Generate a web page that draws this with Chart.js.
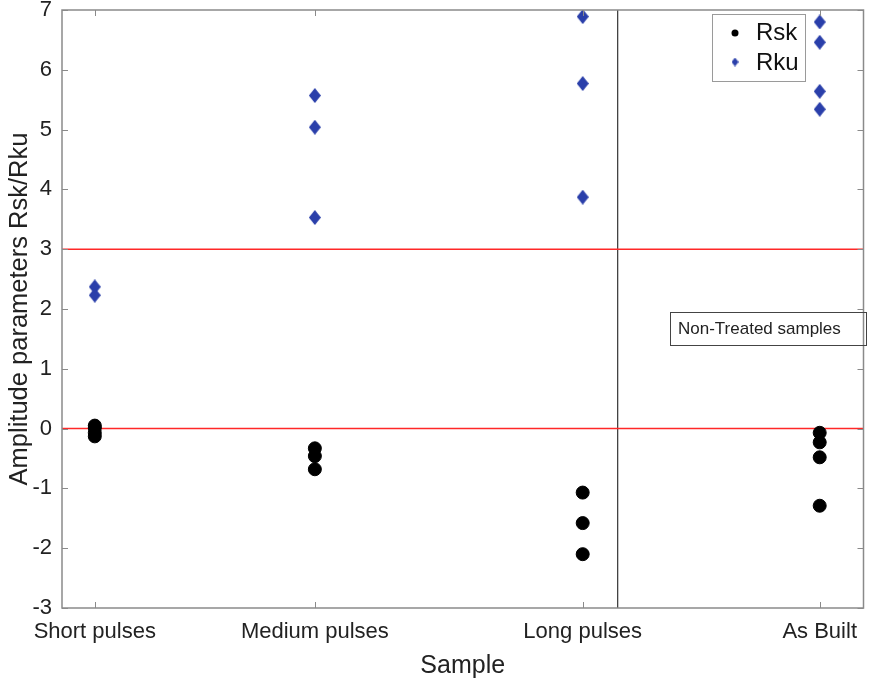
<!DOCTYPE html>
<html>
<head>
<meta charset="utf-8">
<script src="https://cdn.jsdelivr.net/npm/chart.js@4.4.1/dist/chart.umd.min.js"></script>
<style>
  html, body { margin: 0; padding: 0; background: #fff; }
  #wrap { width: 871px; height: 681px; }
</style>
</head>
<body>
<div id="wrap"><canvas id="chart"></canvas></div>
<script>
// Sample groups and where they sit on the x axis
const categories = ["Short pulses", "Medium pulses", "Long pulses", "As Built"];
const categoryX = [1, 2, 3.217, 4.294];
const xRange = [0.851, 4.493];
const separatorX = 3.376;

// Rsk values per sample group
const rskShort = [0.05, 0.01, -0.07, -0.13];
const rskMedium = [-0.33, -0.46, -0.68];
const rskLong = [-1.07, -1.58, -2.10];
const rskAsBuilt = [-0.07, -0.23, -0.48, -1.29];

// Rku values per sample group
const rkuShort = [2.37, 2.23];
const rkuMedium = [5.57, 5.04, 3.53];
const rkuLong = [6.89, 5.77, 3.87];
const rkuAsBuilt = [6.80, 6.46, 5.64, 5.34];

// y axis ticks and reference lines
const yTicks = [-3, -2, -1, 0, 1, 2, 3, 4, 5, 6, 7];
const refLines = [0, 3];

const FONT = "'Liberation Sans', Arial, Helvetica, sans-serif";
const BLUE = "rgb(42, 63, 170)";

function toPoints(groups) {
  const pts = [];
  groups.forEach((vals, i) => {
    vals.forEach((v) => pts.push({ x: categoryX[i], y: v }));
  });
  return pts;
}

// MATLAB-like diamond marker (a bit taller than wide)
function makeDiamond(w, h, color) {
  const c = document.createElement("canvas");
  c.width = w;
  c.height = h;
  const g = c.getContext("2d");
  g.fillStyle = color;
  g.beginPath();
  g.moveTo(w / 2, 0);
  g.lineTo(w, h / 2);
  g.lineTo(w / 2, h);
  g.lineTo(0, h / 2);
  g.closePath();
  g.fill();
  return c;
}

const diamond = makeDiamond(12, 15, BLUE);

const refDatasets = refLines.map((v) => ({
  type: "line",
  data: [{ x: xRange[0], y: v }, { x: xRange[1], y: v }],
  borderColor: "rgb(255, 40, 40)",
  borderWidth: 1.5,
  pointRadius: 0,
  order: 3,
}));

// box, inward ticks, legend and text note
const decorations = {
  id: "decorations",
  afterDraw(chart) {
    const { ctx, chartArea: a, scales } = chart;
    ctx.save();

    ctx.strokeStyle = "#8a8a8a";
    ctx.lineWidth = 1;
    ctx.beginPath();
    categoryX.forEach((v) => {
      const px = Math.round(scales.x.getPixelForValue(v)) + 0.5;
      ctx.moveTo(px, a.bottom);
      ctx.lineTo(px, a.bottom - 6);
      ctx.moveTo(px, a.top);
      ctx.lineTo(px, a.top + 6);
    });
    yTicks.forEach((v) => {
      const py = Math.round(scales.y.getPixelForValue(v)) + 0.5;
      ctx.moveTo(a.left, py);
      ctx.lineTo(a.left + 6, py);
      ctx.moveTo(a.right, py);
      ctx.lineTo(a.right - 6, py);
    });
    ctx.stroke();

    ctx.lineWidth = 1.5;
    ctx.strokeStyle = "#8a8a8a";
    ctx.strokeRect(a.left, a.top, a.right - a.left, a.bottom - a.top);

    // legend
    const lx = 712.5, ly = 14.5, lw = 93, lh = 67;
    ctx.fillStyle = "#fff";
    ctx.fillRect(lx, ly, lw, lh);
    ctx.strokeStyle = "#9a9a9a";
    ctx.lineWidth = 1;
    ctx.strokeRect(lx, ly, lw, lh);
    ctx.fillStyle = "#000";
    ctx.beginPath();
    ctx.arc(735, 33, 3.5, 0, Math.PI * 2);
    ctx.fill();
    ctx.drawImage(makeDiamond(7, 9, BLUE), 731.5, 57.5);
    ctx.fillStyle = "#111";
    ctx.font = "24px " + FONT;
    ctx.textBaseline = "middle";
    ctx.textAlign = "left";
    ctx.fillText("Rsk", 756, 33);
    ctx.fillText("Rku", 756, 63);

    // note box
    ctx.strokeStyle = "#444";
    ctx.strokeRect(670.5, 312.5, 196, 33);
    ctx.font = "17px " + FONT;
    ctx.fillStyle = "#222";
    ctx.fillText("Non-Treated samples", 678, 329.5);

    ctx.restore();
  },
};

new Chart(document.getElementById("chart"), {
  type: "scatter",
  data: {
    datasets: [
      {
        label: "Rsk",
        data: toPoints([rskShort, rskMedium, rskLong, rskAsBuilt]),
        backgroundColor: "#000",
        borderColor: "#000",
        pointRadius: 6.5,
        order: 1,
      },
      {
        label: "Rku",
        data: toPoints([rkuShort, rkuMedium, rkuLong, rkuAsBuilt]),
        pointStyle: diamond,
        order: 1,
      },
      ...refDatasets,
      {
        type: "line",
        data: [{ x: separatorX, y: yTicks[0] }, { x: separatorX, y: yTicks[yTicks.length - 1] }],
        borderColor: "#333",
        borderWidth: 1.2,
        pointRadius: 0,
        order: 3,
      },
    ],
  },
  options: {
    responsive: true,
    maintainAspectRatio: false,
    animation: false,
    events: [],
    layout: { padding: { top: 10, right: 3, left: 0, bottom: 0 } },
    plugins: { legend: { display: false }, tooltip: { enabled: false } },
    scales: {
      x: {
        type: "linear",
        min: xRange[0],
        max: xRange[1],
        afterBuildTicks: (s) => {
          s.ticks = categoryX.map((v) => ({ value: v }));
        },
        afterFit: (s) => {
          s.height = 73;
          s.paddingLeft = 0;
          s.paddingRight = 0;
        },
        ticks: {
          autoSkip: false,
          maxRotation: 0,
          padding: 11,
          color: "#222",
          font: { family: FONT, size: 22 },
          callback: (v) => categories[categoryX.indexOf(v)],
        },
        grid: { display: false, drawTicks: false },
        border: { display: false },
        title: {
          display: true,
          text: "Sample",
          color: "#222",
          font: { family: FONT, size: 25 },
          padding: { top: 5, bottom: 0 },
        },
      },
      y: {
        min: yTicks[0],
        max: yTicks[yTicks.length - 1],
        afterBuildTicks: (s) => {
          s.ticks = yTicks.map((v) => ({ value: v }));
        },
        afterFit: (s) => {
          s.width = 62;
          s.paddingTop = 0;
          s.paddingBottom = 0;
        },
        ticks: {
          padding: 10,
          color: "#222",
          font: { family: FONT, size: 22 },
        },
        grid: { display: false, drawTicks: false },
        border: { display: false },
        title: {
          display: true,
          text: "Amplitude parameters Rsk/Rku",
          color: "#222",
          font: { family: FONT, size: 25.5 },
          padding: { top: 5, bottom: 0 },
        },
      },
    },
  },
  plugins: [decorations],
});
</script>
</body>
</html>
